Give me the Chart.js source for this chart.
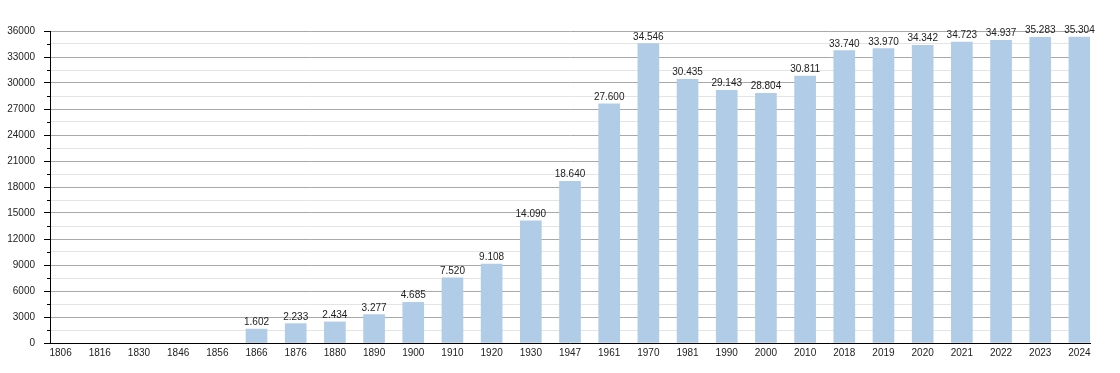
<!DOCTYPE html>
<html>
<head>
<meta charset="utf-8">
<script src="https://cdn.jsdelivr.net/npm/chart.js@4/dist/chart.umd.min.js"></script>
<style>
  html, body { margin: 0; padding: 0; background: #fff; }
  canvas { display: block; }
</style>
</head>
<body>
<canvas id="popChart" width="1120" height="373"></canvas>
<script>
// Chart data
const years = ['1806', '1816', '1830', '1846', '1856', '1866', '1876', '1880', '1890', '1900',
    '1910', '1920', '1930', '1947', '1961', '1970', '1981', '1990', '2000', '2010',
    '2018', '2019', '2020', '2021', '2022', '2023', '2024'];
const population = [null, null, null, null, null, 1602, 2233, 2434, 3277, 4685,
    7520, 9108, 14090, 18640, 27600, 34546, 30435, 29143, 28804, 30811,
    33740, 33970, 34342, 34723, 34937, 35283, 35304];
const yMax = 36000;
const yStep = 1500;

const barColor = '#b1cce6';
const textColor = '#222';
const fontFamily = '"Liberation Sans", Arial, sans-serif';

function formatValue(v) {
    return String(v).replace(/\B(?=(\d{3})+(?!\d))/g, '.');
}

function isMajor(value) {
    return value % 3000 === 0;
}

// Value labels above each bar and the short minor tick marks
const valueLabels = {
    id: 'valueLabels',
    afterDatasetsDraw(chart) {
        const ctx = chart.ctx;
        const meta = chart.getDatasetMeta(0);
        ctx.save();
        ctx.font = '10px ' + fontFamily;
        ctx.fillStyle = textColor;
        ctx.textAlign = 'center';
        ctx.textBaseline = 'alphabetic';
        meta.data.forEach((bar, i) => {
            const v = population[i];
            if (v === null) return;
            ctx.fillText(formatValue(v), bar.x, bar.y - 4);
        });

        // minor ticks on the y axis
        const yScale = chart.scales.y;
        const left = chart.chartArea.left;
        ctx.strokeStyle = '#000';
        ctx.lineWidth = 1;
        for (let v = yStep; v < yMax; v += 3000) {
            const y = Math.round(yScale.getPixelForValue(v)) + 0.5;
            ctx.beginPath();
            ctx.moveTo(left - 3, y);
            ctx.lineTo(left, y);
            ctx.stroke();
        }
        ctx.restore();
    }
};

const ctx = document.getElementById('popChart').getContext('2d');
const popChart = new Chart(ctx, {
    type: 'bar',
    data: {
        datasets: [{
            data: population.map((v, i) => ({ x: i, y: v })),
            backgroundColor: barColor,
            borderWidth: 0,
            barThickness: 21
        }]
    },
    options: {
        responsive: false,
        animation: false,
        devicePixelRatio: 1,
        layout: {
            padding: { top: 31, right: 30, left: 0, bottom: 0 }
        },
        plugins: {
            legend: { display: false },
            tooltip: { enabled: false }
        },
        scales: {
            x: {
                type: 'linear',
                offset: false,
                min: -0.27,
                max: 26.27,
                grid: { display: false, drawTicks: false },
                border: { display: true, color: '#000', width: 1 },
                ticks: {
                    stepSize: 1,
                    includeBounds: false,
                    autoSkip: false,
                    maxRotation: 0,
                    padding: 4,
                    color: textColor,
                    font: { family: fontFamily, size: 10 },
                    callback: (value) => Number.isInteger(value) ? years[value] : ''
                },
                afterFit: (scale) => { scale.height = 30; }
            },
            y: {
                min: 0,
                max: yMax,
                grid: {
                    color: (c) => isMajor(c.tick.value) ? '#a9a9a9' : '#e4e4e4',
                    tickColor: (c) => isMajor(c.tick.value) ? '#000' : 'rgba(0,0,0,0)',
                    tickLength: 6
                },
                border: { display: true, color: '#000', width: 1 },
                ticks: {
                    stepSize: yStep,
                    autoSkip: false,
                    padding: 9,
                    color: textColor,
                    font: { family: fontFamily, size: 10 },
                    callback: (value) => isMajor(value) ? String(value) : ''
                },
                afterFit: (scale) => { scale.width = 50; }
            }
        }
    },
    plugins: [valueLabels]
});
</script>
</body>
</html>
